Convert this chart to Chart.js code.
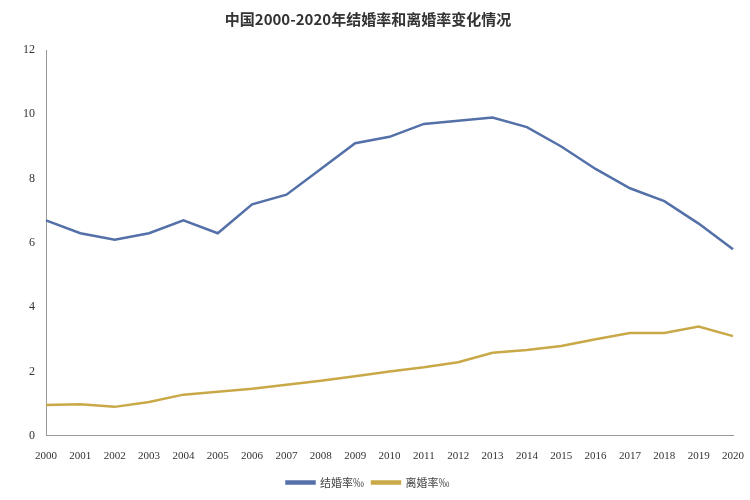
<!DOCTYPE html>
<html><head><meta charset="utf-8">
<script src="https://cdn.jsdelivr.net/npm/chart.js@4"></script>
<style>body{margin:0;background:#fff}#w{width:750px;height:500px}</style>
</head><body><div id="w"><canvas id="c"></canvas></div>
<script>
const years = ["2000","2001","2002","2003","2004","2005","2006","2007","2008","2009","2010","2011","2012","2013","2014","2015","2016","2017","2018","2019","2020"];
const marriageRate = [6.7,6.3,6.1,6.3,6.7,6.3,7.2,7.5,8.3,9.1,9.3,9.7,9.8,9.9,9.6,9.0,8.3,7.7,7.3,6.6,5.8];
const divorceRate = [0.96,0.98,0.90,1.05,1.28,1.37,1.46,1.59,1.71,1.85,2.0,2.13,2.29,2.58,2.67,2.79,3.0,3.2,3.2,3.4,3.1];
const font = "'Liberation Serif', 'Noto Sans CJK SC', serif";
new Chart(document.getElementById('c'), {
  type: 'line',
  data: { labels: years, datasets: [
    {label:'结婚率‰', data: marriageRate, borderColor:'#5470a8', backgroundColor:'#5470a8', borderWidth:2.5, pointRadius:0, tension:0},
    {label:'离婚率‰', data: divorceRate, borderColor:'#c9a947', backgroundColor:'#c9a947', borderWidth:2.5, pointRadius:0, tension:0}
  ]},
  options: {
    responsive:true, maintainAspectRatio:false, animation:false,
    layout:{padding:{left:0,right:14,top:4,bottom:2}},
    plugins:{
      title:{display:true, text:'中国2000-2020年结婚率和离婚率变化情况', color:'#333', font:{family:"'Noto Sans CJK SC'", size:15, weight:'bold'}, padding:{top:6,bottom:22}},
      legend:{position:'bottom', labels:{boxWidth:28, boxHeight:2, color:'#444', font:{family:"'Noto Sans CJK SC'", size:11}, padding:8}}
    },
    scales:{
      x:{offset:false, grid:{display:false}, border:{color:'#999'}, ticks:{color:'#333', font:{family:font, size:11}, maxRotation:0, autoSkip:false, padding:6}},
      y:{min:0,max:12, afterFit:(s)=>{s.width=46;}, grid:{display:false}, border:{color:'#999'}, ticks:{stepSize:2, color:'#333', font:{family:font, size:12}}}
    }
  }
});
</script></body></html>
